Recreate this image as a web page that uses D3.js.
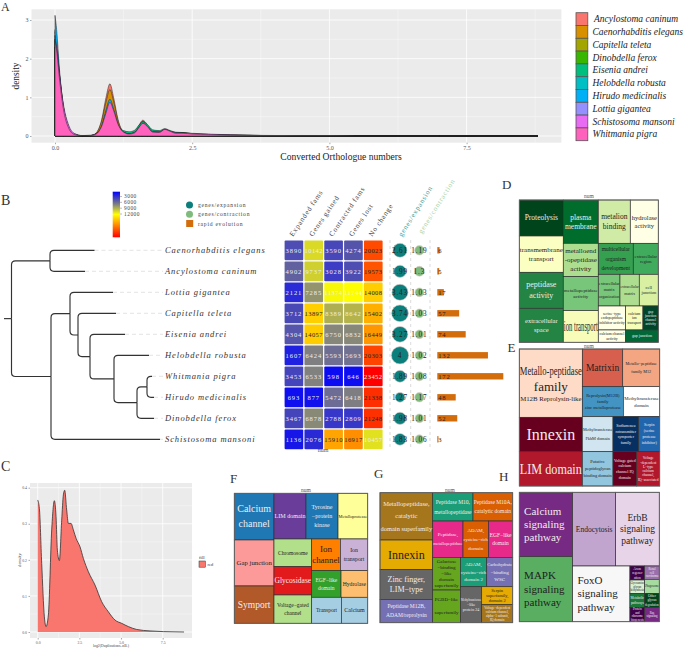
<!DOCTYPE html>
<html><head><meta charset="utf-8">
<script src="https://cdn.jsdelivr.net/npm/d3@7/dist/d3.min.js"></script>
<style>html,body{margin:0;padding:0;background:#fff}svg{display:block;font-family:"Liberation Serif",serif}</style>
</head><body><svg id="c" width="685" height="649"></svg>
<script>
// ---------- Panel A data ----------
const speciesA=["Ancylostoma caninum","Caenorhabditis elegans","Capitella teleta","Dinobdella ferox","Eisenia andrei","Helobdella robusta","Hirudo medicinalis","Lottia gigantea","Schistosoma mansoni","Whitmania pigra"];
const xA=[0,.03,.08,.15,.25,.35,.5,.65,.75,.85,.93,1,1.07,1.15,1.25,1.35,1.45,1.53,1.6,1.68,1.78,1.9,2,2.1,2.2,2.33,2.5,2.8,3.2,3.8,4.5,5.5,7,8.8];
const densAnc=[2.2,2.0,1.4,.68,.18,.03,.003,.01,.08,.42,1.0,1.35,.98,.42,.1,.04,.09,.28,.41,.3,.12,.08,.14,.1,.06,.05,.04,.03,.015,.006,.003,.001,.0005,0];
const densCae=[2.3,2.05,1.45,.7,.19,.03,.003,.01,.07,.38,.88,1.2,.88,.38,.1,.04,.09,.26,.38,.28,.12,.09,.15,.1,.07,.06,.04,.03,.015,.006,.003,.001,.0005,0];
const densCap=[2.5,2.2,1.55,.74,.2,.04,.004,.01,.05,.22,.55,.75,.55,.25,.09,.05,.09,.24,.35,.27,.13,.12,.18,.13,.09,.09,.06,.04,.02,.012,.006,.002,.001,0];
const densDin=[2.7,2.4,1.6,.76,.21,.04,.004,.01,.05,.24,.6,.85,.62,.27,.09,.05,.09,.22,.33,.25,.12,.1,.17,.12,.08,.08,.05,.035,.02,.01,.005,.002,.001,0];
const densEis=[2.3,2.05,1.5,.78,.24,.06,.01,.015,.05,.2,.5,.7,.52,.26,.14,.11,.15,.28,.37,.3,.16,.14,.19,.14,.1,.09,.06,.04,.02,.012,.006,.002,.001,0];
const densHel=[2.75,2.45,1.65,.78,.21,.04,.004,.01,.05,.23,.56,.8,.58,.26,.09,.05,.09,.21,.3,.23,.11,.1,.15,.11,.08,.07,.05,.035,.02,.01,.005,.002,.001,0];
const densHir=[3.12,2.75,1.75,.78,.2,.03,.003,.01,.05,.27,.68,.95,.7,.3,.09,.05,.09,.23,.33,.24,.1,.09,.14,.1,.06,.06,.04,.03,.015,.008,.004,.0015,.0007,0];
const densLot=[2.6,2.3,1.6,.8,.23,.05,.006,.012,.05,.22,.54,.75,.55,.26,.1,.06,.1,.21,.3,.23,.12,.11,.16,.12,.09,.08,.06,.04,.025,.012,.006,.002,.001,0];
const densSch=[2.5,2.25,1.6,.85,.28,.07,.012,.02,.05,.18,.44,.6,.45,.22,.1,.06,.09,.18,.25,.2,.11,.1,.14,.11,.08,.08,.07,.05,.03,.015,.008,.003,.001,0];
const densWhi=[2.45,2.2,1.5,.72,.2,.04,.005,.01,.05,.25,.6,.87,.65,.3,.1,.05,.08,.22,.33,.25,.1,.09,.17,.12,.07,.07,.05,.035,.02,.01,.005,.002,.001,0];
const densA=[densAnc,densCae,densCap,densDin,densEis,densHel,densHir,densLot,densSch,densWhi];
const hueA=["#F8766D","#D89000","#A3A500","#39B600","#00BF7D","#00BFC4","#00B0F6","#9590FF","#E76BF3","#FF62BC"];

// ---------- Panel B data ----------
const speciesB=["Caenorhabditis elegans","Ancylostoma caninum","Lottia gigantea","Capitella teleta","Eisenia andrei","Helobdella robusta","Whitmania pigra","Hirudo medicinalis","Dinobdella ferox","Schistosoma mansoni"];
// nested tree: [branch length, child, child]; a leaf is [branch length, species index]
const treeB=[7.5,[38.5,[44.5,0],[35,1]],[39.5,[19,[43,2],[8,[38,3],[12,[35,4],[24,[35,5],[23,[10,[5,6],[7,7]],[17,8]]]]]],[109,9]]];
const heatCols=["Expanded fams","Genes gained","Contracted fams","Genes lost","No change"];
const expanded=[3890,4902,2121,3712,4304,1607,3453,693,3467,1136];
const gained=[10142,9737,7285,13897,14057,6424,6533,877,6878,2076];
const contracted=[3590,3028,11374,8389,6750,5593,598,5472,2788,15910];
const lost=[4274,3922,11744,8642,6832,5693,646,6418,2809,16917];
const noChange=[20023,19573,14008,15402,16449,20303,23452,21338,21248,10457];
const heatVals=[expanded,gained,contracted,lost,noChange];
const geneExp=[2.61,1.99,3.43,3.74,3.27,4,1.89,1.27,1.98,1.83];
const geneCon=[1.19,1.3,1.03,1.03,1.01,1.02,1.08,1.17,1.01,1.06];
const rapid=[6,5,17,57,74,132,172,48,52,3];
const colorTicks=[3000,6000,9000,12000];

// ---------- Panel C data ----------
const xC=[0,.1,.24,.4,.5,.64,.84,1,1.1,1.18,1.3,1.44,1.54,1.62,1.74,1.84,2,2.14,2.3,2.54,2.74,3.04,3.44,3.84,4.24,4.64,5.04,5.44,5.94,6.74,7.54,8.78];
const yC=[.366,.343,.19,.042,.015,.047,.283,.364,.32,.227,.198,.31,.38,.393,.338,.301,.301,.283,.26,.236,.204,.167,.13,.084,.056,.033,.024,.015,.007,.003,.001,0];

// ---------- Treemap data ----------
const dLabels=["Proteolysis","transmembrane\ntransport","peptidase\nactivity","extracellular\nspace","plasma\nmembrane","metalloend\n-opeptidase\nactivity","metallopeptidase\nactivity","ion transport","metalion\nbinding","hydrolase\nactivity","multicellular\norganism\ndevelopment","extracellular\nregion","extracellular\nmatrix\norganization","extracellular\nmatrix","cell\njunction","serine−type\nendopeptidase\ninhibitor activity","calcium channel\nactivity","calcium\nion\ntransport","gap\njunction\nchannel\nactivity","gap junction"];
const dValues=[14256,14388,14256,13464,13650,10500,10710,9975,12480,10920,9765,6975,6175,5510,5415,5904,3034,3744,3312,3626];
const dTree=['h',['v',0,1,2,3],['v',4,5,6,7],['v',['h',8,9],['h',10,11],['h',12,13,14],['h',['v',15,16],['v',['h',17,18],19]]]];
const dFill=["#00441b","#fcffc2","#238443","#238443","#006d2c","#addd8e","#78c679","#f7fcb9","#d0eba5","#ffffe5","#34a050","#41ab5d","#78c679","#addd8e","#d9f0a3","#ffffe5","#ffffe5","#f7fcb9","#004529","#006837"];
const dInk=[1,0,1,1,1,0,0,0,0,0,0,0,0,0,0,0,0,0,1,1];
const dFont=[7.5,7,8,6.5,7.5,7,5,14,7.5,6.5,5.5,4.5,4.2,4.2,4.5,3.8,3.8,3.8,3.5,4];
const dLead={10:1.7,12:1.6,13:1.6,8:1.3,5:1.25,2:1.4,3:1.5};

const eLabels=["Metallo-peptidase\nfamily\nM12B Reprolysin-like","Innexin","LIM domain","Matrixin","Metallo−peptidase\nfamily M12","Reprolysin(M12B)\nfamily\nzinc metalloprotease","Methyltransferase\ndomain","Methyltransferase\nFkbM domain","Putative\npeptidoglycan\nbinding domain","Sodium:neu\nrotransmitter\nsymporter\nfamily","Serpin\n(serine\nprotease\ninhibitor)","Voltage gated\ncalcium\nchannel IQ\ndomain","Voltage\n-dependent\nL−type\ncalcium\nchannel,\nIQ−associated"];
const eValues=[38745,19467,19467,13673,12543,11070,9810,9660,9476,8085,6615,7313,7107];
const eTree=['h',['v',0,1,2],['v',['h',3,4],['h',5,6],['h',['v',7,8],['v',['h',9,10],['h',11,12]]]]];
const eFill=["#fddbc7","#67001f","#b2182b","#d6604d","#f4a582","#4393c3","#ffffff","#d1e5f0","#92c5de","#053061","#2166ac","#67001f","#b2182b"];
const eInk=[0,1,1,0,0,0,0,0,0,1,1,1,1];
const eFont=[[13,13,6.8],16,15,9.5,4.2,4.4,4.8,4.3,4.5,4,4,4,3.6];
const eLead={4:2,7:2,8:1.6,9:1.45,10:1.5,11:1.4,5:1.3,6:1.5};

const fLabels=["Calcium\nchannel","Gap junction","Symport","LIM domain","Tyrosine\n−protein\nkinase","Metalloprotease","Chromosome","Glycosidase","Voltage−gated\nchannel","Ion\nchannel","Ion\ntransport","EGF−like\ndomain","Hydrolase","Transport","Calcium"];
const fValues=[16660,16422,13328,13152,13152,12193,9379,9605,9605,8170,7790,7040,6400,6942,6162];
const fTree=['h',['v',0,1,2],['v',['h',3,4,5],['h',['v',6,7,8],['v',['h',9,10],['h',11,12],['h',13,14]]]]];
const fFill=["#1f78b4","#fb9a99","#b15928","#6a3d9a","#1f78b4","#ffff99","#b2df8a","#e31a1c","#b2df8a","#ff7f00","#cab2d6","#33a02c","#fdbf6f","#a6cee3","#a6cee3"];
const fInk=[1,0,1,1,1,0,0,1,0,0,0,1,0,0,0];
const fFont=[10,6.8,9.5,6.8,6,5,5.5,7.5,5.5,9,5.8,5.5,5.7,5.5,6];
const fLead={0:1.5,4:1.5,8:1.5,10:1.5,11:1.5};

const gLabels=["Metallopeptidase,\ncatalytic\ndomain superfamily","Innexin","Zinc finger,\nLIM−type","Peptidase M12B,\nADAM/reprolysin","Peptidase M10,\nmetallopeptidase","Peptidase M10A,\ncatalytic domain","Peptidase,\nmetallopeptidase","ADAM,\ncysteine−rich\ndomain","EGF−like\ndomain","Galactose\n−binding\n−like\ndomain\nsuperfamily","PGBD−like\nsuperfamily","ADAM,\ncysteine−rich\ndomain 2","Carbohydrate\n−binding\nWSC","Methyltransferase\n−like\nprotein 24","Serpin\nsuperfamily,\ndomain 2","Voltage−dependent\ncalcium channel,\nalpha−1 subunit,\nIQ domain"];
const gValues=[22436,13904,14220,11060,10285,10115,9919,8284,7957,8134,8134,6952,6864,6912,4929,5115];
const gTree=['h',['v',0,1,2,3],['v',['h',4,5],['h',6,7,8],['h',['v',9,10],['v',['h',11,12],['h',13,['v',14,15]]]]]];
const gFill=["#a6761d","#e6ab02","#666666","#7570b3","#1b9e77","#d95f02","#e7298a","#d95f02","#e7298a","#66a61e","#66a61e","#1b9e77","#7570b3","#666666","#e6ab02","#a6761d"];
const gInk=[1,0,1,1,1,1,1,1,1,0,0,1,1,1,0,1];
const gFont=[6.5,12,8,5.5,5.5,5.5,5,5,5.5,5,5,5,5,4,4.5,3.4];
const gLead={0:1.9,2:1.3,3:1.6,4:1.8,5:1.7,6:1.8,7:1.8,8:1.5,10:2.6,11:1.5,12:1.5,13:1.3,14:1.2};

const hLabels=["Calcium\nsignaling\npathway","MAPK\nsignaling\npathway","Endocytosis","ErbB\nsignaling\npathway","FoxO\nsignaling\npathway","Axon\nregener\nation","Glycosamino\nglycan\nbiosynthesis","Metabolic\npathways","Protein\nand\nribosome\nbiogenesis","Renal\ncell\ncarcinoma","Phagosome","Other\nglycan\ndegradation","Ras\nsignaling"];
const hValues=[30880,31200,28509,28951,28724,1848,1760,1848,1892,1760,1848,1848,1892];
const hTree=['h',['v',0,1],['v',['h',2,3],['h',4,['h',['v',5,6,7,8],['v',9,10,11,12]]]]];
const hFill=["#762a83","#5aae61","#c2a5cf","#e7d4e8","#f7f7f7","#40004b","#d9f0d3","#1b7837","#40004b","#9970ab","#a6dba0","#00441b","#762a83"];
const hInk=[1,0,0,0,0,1,0,1,1,1,0,1,1];
const hFont=[11,11,7.5,9.5,11,3.4,3,3.4,3,3,3.2,3.4,3];
const hLead={0:1.22,1:1.22,3:1.2,4:1.22,5:1.3,7:1.3};
const hLeftAligned=[0,1,4];

// ---------- Drawing ----------
const svg=d3.select("#c");
const GRAY="#ebebeb",INK="#222";

function ggPlot(box,x,y,xMajor,xMinor,yMajor,yMinor,xFmt,yFmt,fs){
  const g=svg.append("g");
  g.append("rect").attr("x",box.l).attr("y",box.t).attr("width",box.r-box.l).attr("height",box.b-box.t).attr("fill",GRAY);
  g.selectAll(".mx").data(xMinor).join("line").attr("x1",x).attr("x2",x).attr("y1",box.t).attr("y2",box.b).attr("stroke","#fff").attr("stroke-width",.35);
  g.selectAll(".my").data(yMinor).join("line").attr("x1",box.l).attr("x2",box.r).attr("y1",y).attr("y2",y).attr("stroke","#fff").attr("stroke-width",.35);
  g.selectAll(".Mx").data(xMajor).join("line").attr("x1",x).attr("x2",x).attr("y1",box.t).attr("y2",box.b).attr("stroke","#fff").attr("stroke-width",.8);
  g.selectAll(".My").data(yMajor).join("line").attr("x1",box.l).attr("x2",box.r).attr("y1",y).attr("y2",y).attr("stroke","#fff").attr("stroke-width",.8);
  const ax=g.append("g").attr("transform",`translate(0,${box.b})`).call(d3.axisBottom(x).tickValues(xMajor).tickFormat(xFmt).tickSize(1.5).tickPadding(1.5));
  const ay=g.append("g").attr("transform",`translate(${box.l},0)`).call(d3.axisLeft(y).tickValues(yMajor).tickFormat(yFmt).tickSize(1.5).tickPadding(1.5));
  [ax,ay].forEach(a=>{a.select(".domain").remove();a.selectAll("text").attr("fill","#555").attr("font-family","Liberation Serif").attr("font-size",fs);a.selectAll("line").attr("stroke","#555").attr("stroke-width",.5);});
  return g;
}

// Panel A
{
 const box={l:31.5,r:561.4,t:9.3,b:142.7};
 const x=d3.scaleLinear().domain([0,7.5]).range([55,466.6]);
 const y=d3.scaleLinear().domain([0,3]).range([136,20]);
 ggPlot(box,x,y,[0,2.5,5,7.5],[1.25,3.75,6.25,8.75],[0,1,2,3],[.5,1.5,2.5],d3.format(".1f"),d3.format("d"),6);
 const area=d3.area().x((d,i)=>x(xA[i])).y0(y(0)).y1(d=>y(d)).curve(d3.curveMonotoneX);
 svg.append("g").selectAll("path").data(densA).join("path").attr("d",area).attr("fill",(d,i)=>hueA[i]).attr("stroke","#222").attr("stroke-width",.5);
 svg.append("text").attr("x",341).attr("y",160).attr("text-anchor","middle").attr("font-size",9.6).attr("fill",INK).text("Converted Orthologue numbers");
 svg.append("text").attr("transform","translate(19,76) rotate(-90)").attr("text-anchor","middle").attr("font-size",9.3).attr("fill",INK).text("density");
 const ly=d3.scaleBand().domain(speciesA).range([12.7,140.7]);
 const lg=svg.append("g").selectAll("g").data(speciesA).join("g");
 lg.append("rect").attr("x",576).attr("y",d=>ly(d)).attr("width",11.8).attr("height",ly.bandwidth()).attr("fill",(d,i)=>hueA[i]).attr("stroke","#555").attr("stroke-width",.8);
 lg.append("text").attr("x",(d,i)=>i==0?594:592.5).attr("y",d=>ly(d)+ly.bandwidth()/2+3).attr("font-size",9.5).attr("font-style","italic").attr("fill",INK).text(d=>d);
}

// Panel B
{
 const rowY=d3.scaleBand().domain(d3.range(speciesB.length)).range([239.8,449.8]);
 const rowC=i=>rowY(i)+rowY.bandwidth()/2;
 const tx=d3.scaleLinear().domain([0,155]).range([4,159]);
 const segs=[],tips=[];
 function walk(n,start){
   const depth=start+n[0];
   const isLeaf=typeof n[1]==="number";
   let yy;
   if(isLeaf){yy=rowC(n[1]);tips.push({x:depth,i:n[1]});}
   else{
     const kids=n.slice(1).map(c=>walk(c,depth));
     yy=(kids[0].y+kids[kids.length-1].y)/2;
     kids.forEach(k=>segs.push({px:depth,py:yy,cx:k.x,cy:k.y}));
   }
   return {x:depth,y:yy};
 }
 const root=walk(treeB,0);
 segs.push({px:0,py:root.y,cx:root.x,cy:root.y});
 const tg=svg.append("g");
 tg.selectAll(".dash").data(tips).join("line").attr("x1",d=>tx(d.x)).attr("x2",tx(152)+7).attr("y1",d=>rowC(d.i)).attr("y2",d=>rowC(d.i)).attr("stroke","#ddd").attr("stroke-width",.8).attr("stroke-dasharray","4 3");
 tg.selectAll(".br").data(segs).join("path").attr("fill","none").attr("stroke","#333").attr("stroke-width",1.15).attr("d",d=>{
   const px=tx(d.px),cx=tx(d.cx),dy=d.cy-d.py;
   if(Math.abs(dy)<.01) return `M${px},${d.py}L${cx},${d.cy}`;
   const r=Math.min(4,Math.abs(dy),cx-px),s=dy>0?1:-1;
   return `M${px},${d.py}L${px},${d.cy-s*r}Q${px},${d.cy} ${px+r},${d.cy}L${cx},${d.cy}`;
 });
 tg.selectAll(".lab").data(speciesB).join("text").attr("x",165).attr("y",(d,i)=>rowC(i)+3).attr("font-size",8.5).attr("font-style","italic").attr("letter-spacing",.9).attr("fill","#333").text(d=>d);

 // heat map
 const cx=d3.scaleBand().domain(heatCols).range([284.6,382.6]).paddingInner(.06);
 const color=d3.scaleLinear().domain([0,6500,11700,23452]).range(["#0000ff","#808080","#ffff00","#ff0000"]);
 const rowH=d3.scaleBand().domain(d3.range(10)).range([239.8,449.8]).paddingInner(.06).paddingOuter(.03);
 const cells=svg.append("g");
 heatCols.forEach((c,j)=>{
   const col=cells.append("g");
   col.selectAll("rect").data(heatVals[j]).join("rect").attr("x",cx(c)).attr("y",(d,i)=>rowH(i)).attr("width",cx.bandwidth()).attr("height",rowH.bandwidth()).attr("rx",1).attr("fill",d=>color(d));
   col.selectAll("text").data(heatVals[j]).join("text").attr("x",cx(c)+cx.bandwidth()/2).attr("y",(d,i)=>rowC(i)+2.4).attr("text-anchor","middle").attr("font-size",6.5).attr("letter-spacing",d=>d>9999?.45:.9).attr("fill",d=>(d>=13000&&d<23000)?"#222":"#eee").text(d=>d);
   svg.append("text").attr("transform",`translate(${cx(c)+cx.bandwidth()/2-1},237) rotate(-56)`).attr("font-size",7.2).attr("letter-spacing",.75).attr("fill","#444").text(c);
 });
 svg.append("text").attr("x",323).attr("y",451.5).attr("text-anchor","middle").attr("font-size",6).attr("fill","#555").text("num");

 // bubbles
 const gridX=[390,410.7,430];
 svg.append("g").selectAll("line").data(gridX).join("line").attr("x1",d=>d).attr("x2",d=>d).attr("y1",240).attr("y2",450).attr("stroke","#ccc").attr("stroke-width",.7).attr("stroke-dasharray","3 3");
 const rs=d3.scaleSqrt().domain([0,4]).range([0,8.7]);
 [[geneExp,400,"#0b7f7c"],[geneCon,419.4,"#7fbb7c"]].forEach(([vals,xc,fill])=>{
   const g=svg.append("g");
   g.selectAll("circle").data(vals).join("circle").attr("cx",xc).attr("cy",(d,i)=>rowC(i)).attr("r",d=>rs(d)).attr("fill",fill).attr("stroke","#e8cfcf").attr("stroke-width",.6);
   g.selectAll("text").data(vals).join("text").attr("x",xc).attr("y",(d,i)=>rowC(i)+2.5).attr("text-anchor","middle").attr("font-size",7.2).attr("letter-spacing",.9).attr("fill","#222").text(d=>d);
 });
 svg.append("text").attr("transform","translate(402,237) rotate(-58)").attr("font-size",7).attr("letter-spacing",.8).attr("fill","#3e9a98").text("genes/expansion");
 svg.append("text").attr("transform","translate(422,234) rotate(-58)").attr("font-size",7).attr("letter-spacing",.8).attr("fill","#a9d1a6").text("genes/contraction");

 // bars
 const bx=d3.scaleLinear().domain([0,172]).range([437.3,503.3]);
 const bg=svg.append("g");
 bg.selectAll("rect").data(rapid).join("rect").attr("x",bx(0)).attr("y",(d,i)=>rowC(i)-3.2).attr("width",d=>bx(d)-bx(0)).attr("height",6.4).attr("fill","#d36c0a");
 bg.selectAll("text").data(rapid).join("text").attr("x",bx(0)+1).attr("y",(d,i)=>rowC(i)+2.3).attr("font-size",6.5).attr("letter-spacing",.8).attr("fill","#222").text(d=>d);

 // colour bar
 const defs=svg.append("defs");
 const grad=defs.append("linearGradient").attr("id","cb").attr("x1",0).attr("x2",0).attr("y1",0).attr("y2",1);
 color.domain().forEach(v=>grad.append("stop").attr("offset",v/23452).attr("stop-color",color(v)));
 const cy=d3.scaleLinear().domain([0,23452]).range([191.7,237.3]);
 svg.append("rect").attr("x",112.7).attr("y",191.7).attr("width",7.3).attr("height",45.6).attr("fill","url(#cb)");
 const cax=svg.append("g").attr("transform","translate(120,-1.5)").call(d3.axisRight(cy).tickValues(colorTicks).tickSize(2).tickPadding(2).tickFormat(d3.format("d")));
 cax.select(".domain").remove();
 cax.selectAll("text").attr("font-family","Liberation Serif").attr("font-size",5.4).attr("letter-spacing",.5).attr("fill","#444");
 cax.selectAll("line").attr("stroke","#555").attr("stroke-width",.4);

 // symbol legend
 const lg=svg.append("g");
 lg.append("circle").attr("cx",189.5).attr("cy",205).attr("r",3.5).attr("fill","#0b7f7c");
 lg.append("circle").attr("cx",189.5).attr("cy",214.3).attr("r",3.5).attr("fill","#7fbb7c");
 lg.append("rect").attr("x",186.2).attr("y",220).attr("width",7).attr("height",7).attr("fill","#d36c0a");
 [["genes/expansion",207],["genes/contraction",216.3],["rapid evolution",225.5]].forEach(([t,yy])=>lg.append("text").attr("x",198).attr("y",yy).attr("font-size",5.6).attr("letter-spacing",.75).attr("fill","#444").text(t));
}

// Panel C
{
 const box={l:30,r:192,t:483,b:638};
 const x=d3.scaleLinear().domain([0,7.5]).range([37.7,162.7]);
 const y=d3.scaleLinear().domain([0,.4]).range([632,487.7]);
 ggPlot(box,x,y,[0,2.5,5,7.5],[1.25,3.75,6.25],[0,.1,.2,.3,.4],[.05,.15,.25,.35],d3.format(".1f"),d3.format(".1f"),3.8);
 const area=d3.area().x((d,i)=>x(xC[i])).y0(y(0)).y1(d=>y(d)).curve(d3.curveMonotoneX);
 svg.append("path").attr("d",area(yC)).attr("fill","#F8766D").attr("stroke","none");
 svg.append("path").attr("d",area.lineY1()(yC)).attr("fill","none").attr("stroke","#333").attr("stroke-width",.8);
 svg.append("text").attr("x",111).attr("y",647).attr("text-anchor","middle").attr("font-size",3.8).attr("fill","#444").text("log2(Duplications..nB.)");
 svg.append("text").attr("transform","translate(21,560) rotate(-90)").attr("text-anchor","middle").attr("font-size",4.8).attr("fill","#444").text("density");
 svg.append("text").attr("x",199).attr("y",559).attr("font-size",4.8).attr("fill","#333").text("fill");
 svg.append("rect").attr("x",199).attr("y",561).attr("width",6.4).attr("height",6.2).attr("fill","#F8766D").attr("stroke","#333").attr("stroke-width",.5);
 svg.append("text").attr("x",207.5).attr("y",565.5).attr("font-size",4.4).attr("fill","#333").text("red");
}

// Treemaps
function treemapPanel(box,tree,labels,values,fills,inks,fonts,lead,leftAligned){
  const root=d3.hierarchy(tree,n=>Array.isArray(n)?n.slice(1):null).sum(n=>Array.isArray(n)?0:values[n]);
  d3.treemap().size([box.r-box.l,box.b-box.t]).round(false).tile((node,a,b,c,e)=>(node.data[0]==='h'?d3.treemapDice:d3.treemapSlice)(node,a,b,c,e))(root);
  const g=svg.append("g").attr("transform",`translate(${box.l},${box.t})`);
  const leaves=root.leaves();
  g.selectAll("rect").data(leaves).join("rect").attr("x",d=>d.x0).attr("y",d=>d.y0).attr("width",d=>d.x1-d.x0).attr("height",d=>d.y1-d.y0).attr("fill",d=>fills[d.data]).attr("stroke","#333").attr("stroke-width",.7);
  leaves.forEach(d=>{
    const i=d.data,lines=labels[i].split("\n");
    const fz=Array.isArray(fonts[i])?fonts[i]:lines.map(()=>fonts[i]);
    const ld=lead[i]||1.2;
    const total=d3.sum(fz)*ld;
    let yy=(d.y0+d.y1)/2-total/2;
    const left=leftAligned&&leftAligned.includes(i);
    lines.forEach((ln,k)=>{
      const fs=fz[k];
      const px=left?d.x0+4.8:(d.x0+d.x1)/2, py=yy+fs*ld/2+fs*.32;
      const t=g.append("text").attr("text-anchor",left?"start":"middle").attr("font-size",fs).attr("fill",inks[i]?"#f1ecee":"#1e1e1e").text(ln);
      const w=t.node().getComputedTextLength(),maxW=d.x1-d.x0-1;
      const sx=w>maxW?maxW/w:1;
      t.attr("transform",`translate(${px},${py}) scale(${sx},1)`);
      yy+=fs*ld;
    });
  });
  g.append("rect").attr("width",box.r-box.l).attr("height",box.b-box.t).attr("fill","none").attr("stroke","#666").attr("stroke-width",.8);
}
treemapPanel({l:519.3,r:658.3,t:200,b:342.3},dTree,dLabels,dValues,dFill,dInk,dFont,dLead);
treemapPanel({l:519.3,r:659.7,t:349,b:486},eTree,eLabels,eValues,eFill,eInk,eFont,eLead);
treemapPanel({l:234.3,r:367.7,t:493.3,b:623.3},fTree,fLabels,fValues,fFill,fInk,fFont,fLead);
treemapPanel({l:380,r:512.7,t:492.7,b:622.7},gTree,gLabels,gValues,gFill,gInk,gFont,gLead);
treemapPanel({l:519.3,r:659.3,t:492.3,b:621.7},hTree,hLabels,hValues,hFill,hInk,hFont,hLead,hLeftAligned);
[[589,198],[589,347.8],[306,491.8],[450,491.8]].forEach(([xx,yy])=>svg.append("text").attr("x",xx).attr("y",yy).attr("text-anchor","middle").attr("font-size",5.5).attr("fill","#555").text("num"));

// Panel letters
[["A",1,11,12],["B",1,205,14],["C",1,471,14],["D",502,189,13],["E",507.5,352,13],["F",230,483,13],["G",374,478,13],["H",499,481,13]].forEach(([t,xx,yy,fs])=>svg.append("text").attr("x",xx).attr("y",yy).attr("font-size",fs).attr("fill","#333").text(t));
</script></body></html>
